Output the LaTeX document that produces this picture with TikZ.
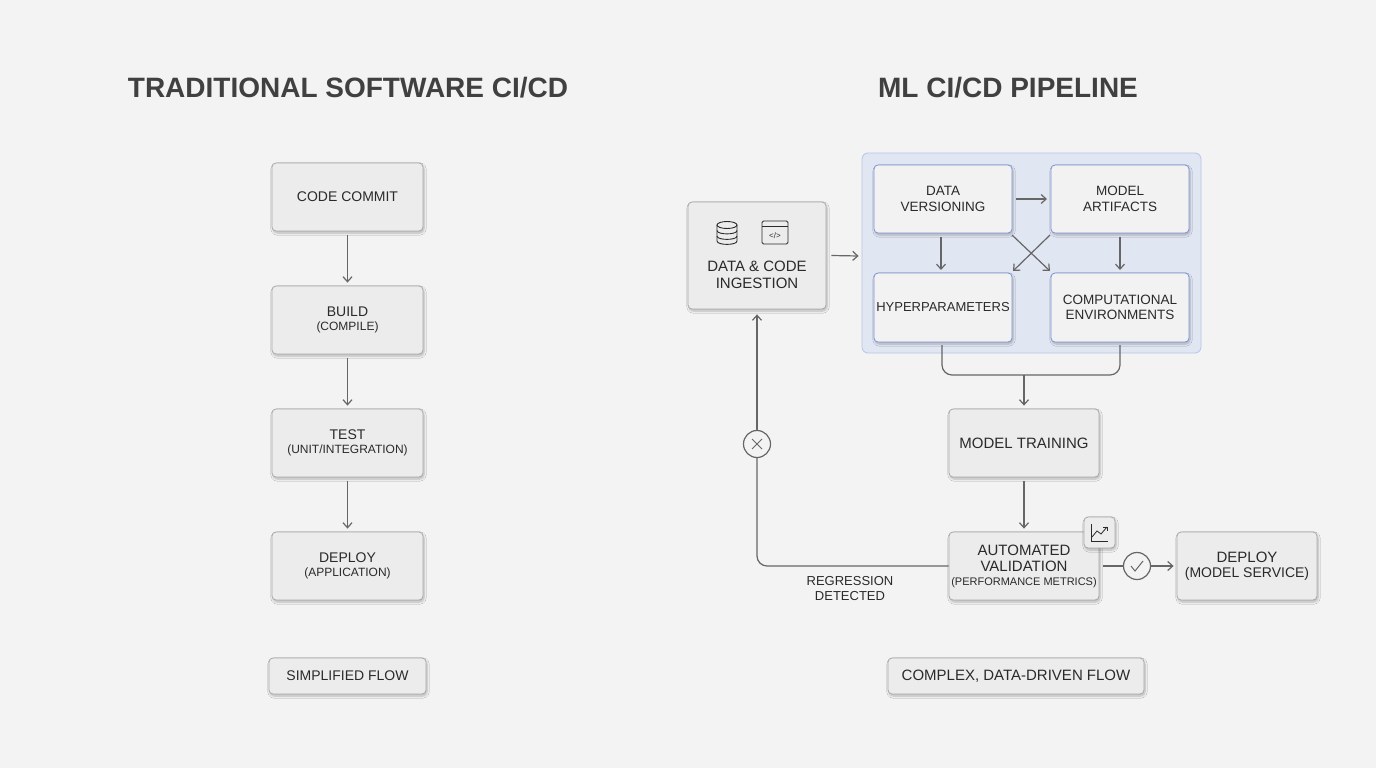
\documentclass[tikz,border=0pt]{standalone}
\usepackage{fontspec}
\setmainfont{Liberation Sans}
\usetikzlibrary{shadows.blur,arrows.meta,calc}
\definecolor{bg}{HTML}{F3F3F4}
\definecolor{boxf}{HTML}{ECECED}
\definecolor{boxd}{HTML}{A8A8AA}
\definecolor{grpf}{HTML}{E1E6F3}
\definecolor{grpd}{HTML}{B5C4E8}
\definecolor{blued}{HTML}{7B93D6}
\definecolor{ln}{HTML}{666666}
\definecolor{txt}{HTML}{2A2A2A}
\begin{document}
\begin{tikzpicture}[x=1pt,y=-1pt,
  box/.style={draw=boxd,fill=boxf,rounded corners=4pt,line width=0.8pt,blur shadow={shadow blur steps=6,shadow xshift=1pt,shadow yshift=-2pt,shadow opacity=25},align=center,text=txt,font=\fontsize{14}{16}\selectfont,inner sep=0pt},
  bbox/.style={box,draw=blued,fill=boxf!70!white,font=\fontsize{13.5}{15.5}\selectfont},
  arr/.style={draw=ln,line width=1.2pt,-{Straight Barb[length=5pt,width=9pt]}},
  lnn/.style={draw=ln,line width=1.2pt},
  title/.style={font=\fontsize{28}{32}\selectfont\bfseries,text=black!75}]
\fill[bg] (0,0) rectangle (1376,768);
\useasboundingbox (0,0) rectangle (1376,768);
\node[title] (t1) at (348,88) {TRADITIONAL SOFTWARE CI/CD};
\node[title] (t2) at (1008,88) {ML CI/CD PIPELINE};
% left
\node[box,minimum width=151pt,minimum height=68pt] (cc) at (347.5,197) {CODE COMMIT};
\node[box,minimum width=151pt,minimum height=68pt] (bd) at (347.5,320) {BUILD\\[-2pt]{\fontsize{12}{14}\selectfont (COMPILE)}};
\node[box,minimum width=151pt,minimum height=68pt] (ts) at (347.5,443) {TEST\\[-2pt]{\fontsize{12}{14}\selectfont (UNIT/INTEGRATION)}};
\node[box,minimum width=151pt,minimum height=68pt] (dp) at (347.5,566) {DEPLOY\\[-2pt]{\fontsize{12}{14}\selectfont (APPLICATION)}};
\node[box,minimum width=157pt,minimum height=36pt] (sf) at (347.5,676) {SIMPLIFIED FLOW};
\draw[arr] (cc.south)++(0,4) -- ($(bd.north)+(0,-3)$);
\draw[arr] (bd.south)++(0,4) -- ($(ts.north)+(0,-3)$);
\draw[arr] (ts.south)++(0,4) -- ($(dp.north)+(0,-3)$);
% right
\node[draw=grpd,fill=grpf,rounded corners=6pt,line width=0.8pt,minimum width=339pt,minimum height=200pt,inner sep=0pt] (grp) at (1031.5,253) {};
\node[box,minimum width=138pt,minimum height=107pt] (ing) at (757,255.5) {};
\node[font=\fontsize{15}{17}\selectfont,align=center,text=txt] (ingt) at (757,275) {DATA \& CODE\\INGESTION};
\begin{scope}[draw=txt,line width=0.9pt]
\draw (727,225) ellipse (10pt and 3.5pt);
\draw (717,225) -- (717,241) .. controls (717,245.5) and (737,245.5) .. (737,241) -- (737,225);
\draw (717,230.5) .. controls (717,235) and (737,235) .. (737,230.5);
\draw (717,236) .. controls (717,240.5) and (737,240.5) .. (737,236);
\draw[rounded corners=1.5pt] (762,221) rectangle (788,244);
\draw (762,226) -- (788,226);
\node[font=\fontsize{8}{8}\selectfont,text=txt,inner sep=0pt] (codei) at (775,235.5) {</>};
\end{scope}
\node[bbox,minimum width=138pt,minimum height=68pt] (dv) at (943,199) {DATA\\VERSIONING};
\node[bbox,minimum width=138pt,minimum height=68pt] (ma) at (1120,199) {MODEL\\ARTIFACTS};
\node[bbox,minimum width=138pt,minimum height=69pt,font=\fontsize{13}{15}\selectfont] (hp) at (943,307.5) {HYPERPARAMETERS};
\node[bbox,minimum width=138pt,minimum height=69pt] (ce) at (1120,307.5) {COMPUTATIONAL\\ENVIRONMENTS};
\draw[arr] (ing.east)++(5,0) -- ($(grp.west)+(-3,3)$);
\draw[arr] (1016,199) -- (1047,199);
\draw[arr] (941,237) -- (941,270);
\draw[arr] (1120,237) -- (1120,270);
\draw[arr] (1012,235) -- (1050,271);
\draw[arr] (1050,235) -- (1013,271);
\node[box,minimum width=150pt,minimum height=68pt,font=\fontsize{15}{17}\selectfont] (mt) at (1024,443) {MODEL TRAINING};
\coordinate (mg) at (1024,375);
\draw[lnn,rounded corners=10pt] (942,345) -- (942,375) -- (mg);
\draw[lnn,rounded corners=10pt] (1120,345) -- (1120,375) -- (mg);
\draw[arr] (mg) -- ($(mt.north)+(0,-3)$);
\node[box,minimum width=150pt,minimum height=68pt,font=\fontsize{15}{17}\selectfont] (av) at (1024,566) {AUTOMATED\\[-1pt]VALIDATION\\[-3pt]{\fontsize{11}{12}\selectfont (PERFORMANCE METRICS)}};
\draw[arr] (mt.south)++(0,4) -- ($(av.north)+(0,-3)$);
\node[box,minimum width=31pt,minimum height=31pt] (ch) at (1099.5,532.5) {};
\draw[txt,line width=0.8pt] (1091,524) -- (1091,541) -- (1108,541);
\draw[txt,line width=0.8pt] (1092,537) -- (1097,531) -- (1101,534) -- (1107,527);
\draw[txt,line width=0.8pt] (1103,527) -- (1107,527) -- (1107,531);
\node[box,minimum width=140pt,minimum height=68pt,font=\fontsize{15}{17}\selectfont] (dm) at (1247,566) {DEPLOY\\[-2pt]{\fontsize{14}{16}\selectfont (MODEL SERVICE)}};
\node[box,minimum width=256pt,minimum height=36pt,font=\fontsize{15}{17}\selectfont] (cf) at (1016,676) {COMPLEX, DATA-DRIVEN FLOW};
\node[draw=ln,fill=bg,circle,line width=1.2pt,minimum size=27pt,inner sep=0pt] (ok) at (1137,566) {};
\draw[ln,line width=1pt] (1131,566) -- (1135,571) -- (1143,561);
\draw[lnn] (av.east)++(4,0) -- (ok.west);
\draw[arr] (ok.east) -- ($(dm.west)+(-3,0)$);
\node[draw=ln,fill=bg,circle,line width=1.2pt,minimum size=27pt,inner sep=0pt] (xx) at (757,444) {};
\draw[ln,line width=1pt] (752,439) -- (762,449) (752,449) -- (762,439);
\draw[lnn,rounded corners=10pt] (av.west) -- (757,566) -- (xx.south);
\draw[arr] (xx.north) -- ($(ing.south)+(0,5)$);
\node[font=\fontsize{13}{15}\selectfont,align=center,text=txt] (rg) at (850,589) {REGRESSION\\DETECTED};
\end{tikzpicture}
\end{document}
